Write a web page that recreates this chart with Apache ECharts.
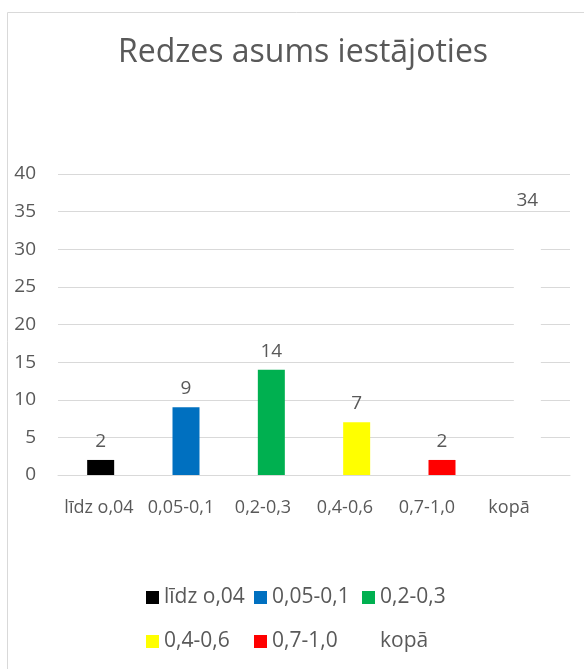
<!DOCTYPE html>
<html>
<head>
<meta charset="utf-8">
<script src="https://cdn.jsdelivr.net/npm/echarts@6/dist/echarts.min.js"></script>
<style>
  html, body { margin: 0; padding: 0; background: #fff; }
  #chart { width: 584px; height: 669px; }
</style>
</head>
<body>
<div id="chart"></div>
<script>
var categories = ['līdz o,04', '0,05-0,1', '0,2-0,3', '0,4-0,6', '0,7-1,0', 'kopā']
var values = [2, 9, 14, 7, 2, 34]
var colors = ['#000000', '#0070c0', '#00b050', '#ffff00', '#ff0000', '#ffffff']

var font = 'Open Sans'
var textColor = '#595959'

var chart = echarts.init(document.getElementById('chart'))

// one series per category so every bar gets its own legend entry
var series = categories.map(function (name, i) {
  var data = categories.map(function (c, j) { return j === i ? values[i] : null })
  return {
    name: name,
    type: 'bar',
    stack: 'all',
    barWidth: 27,
    data: data,
    itemStyle: { color: colors[i] },
    label: {
      show: true,
      position: 'top',
      distance: 9,
      color: textColor,
      fontFamily: font,
      fontSize: 19
    }
  }
})

// legend items sit in fixed-width columns, three per row
var legends = categories.map(function (name, i) {
  return {
    orient: 'horizontal',
    left: 146 + (i % 3) * 108,
    top: 587 + Math.floor(i / 3) * 44,
    padding: 0,
    icon: 'rect',
    itemWidth: 13,
    itemHeight: 13,
    textStyle: { color: textColor, fontFamily: font, fontSize: 21 },
    data: [name]
  }
})

chart.setOption({
  animation: false,
  title: {
    text: 'Redzes asums iestājoties',
    left: 298,
    textAlign: 'center',
    top: 32,
    textStyle: { color: textColor, fontFamily: font, fontSize: 32, fontWeight: 'normal' }
  },
  graphic: [{
    type: 'rect',
    shape: { x: 7.5, y: 12.5, width: 700, height: 700 },
    style: { fill: 'none', stroke: '#d9d9d9', lineWidth: 1 },
    silent: true
  }],
  legend: legends,
  grid: [
    { left: 58, right: 14, top: 174, bottom: 194 },
    // labels in the original sit slightly tighter than the bars
    { left: 58, width: 492, top: 174, bottom: 194 }
  ],
  xAxis: [
    {
      type: 'category',
      gridIndex: 0,
      data: categories,
      axisLine: { show: true, lineStyle: { color: '#d9d9d9' } },
      axisTick: { show: false },
      axisLabel: { show: false }
    },
    {
      type: 'category',
      gridIndex: 1,
      data: categories,
      axisLine: { show: false },
      axisTick: { show: false },
      axisLabel: { interval: 0, margin: 24, color: textColor, fontFamily: font, fontSize: 18 }
    }
  ],
  yAxis: [
    {
      type: 'value',
      gridIndex: 0,
      min: 0,
      max: 40,
      interval: 5,
      axisLine: { show: false },
      axisTick: { show: false },
      splitLine: { lineStyle: { color: '#d9d9d9' } },
      axisLabel: { margin: 22, color: textColor, fontFamily: font, fontSize: 19 }
    },
    { type: 'value', gridIndex: 1, show: false, splitLine: { show: false } }
  ],
  series: series
})
</script>
</body>
</html>
